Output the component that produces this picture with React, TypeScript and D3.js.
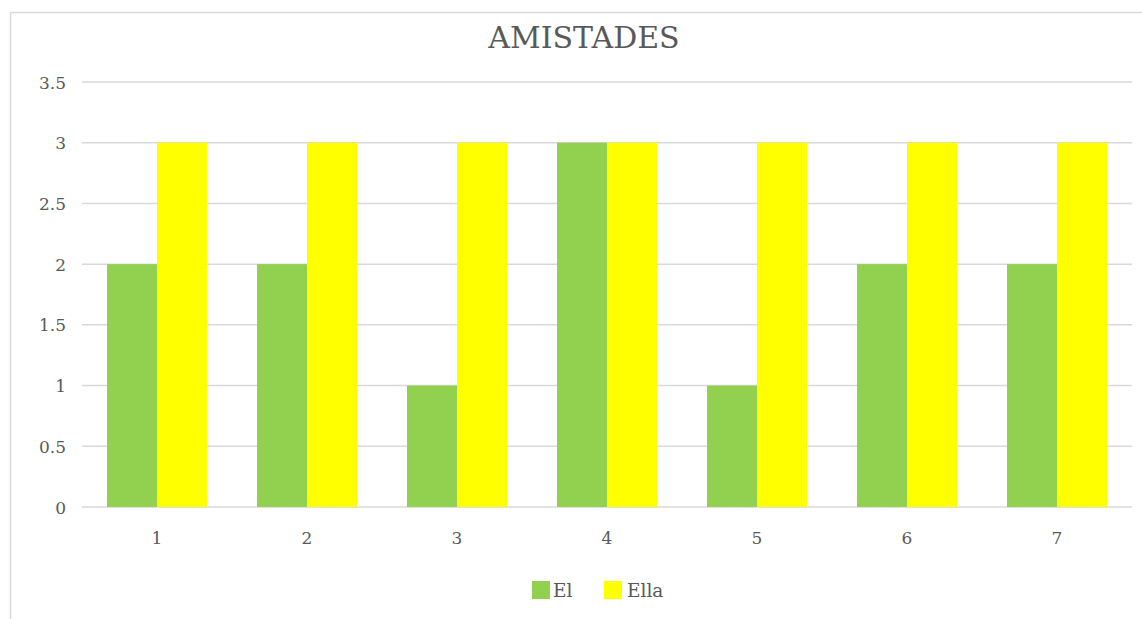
import React from "react";
import * as d3 from "d3";

const categories = ["1", "2", "3", "4", "5", "6", "7"];
const seriesNames = ["El", "Ella"];
const elValues = [2, 2, 1, 3, 1, 2, 2];
const ellaValues = [3, 3, 3, 3, 3, 3, 3];
const yTicks = [0, 0.5, 1, 1.5, 2, 2.5, 3, 3.5];
const colors = ["#92D050", "#FFFF00"];
const title = "AMISTADES";

const W = 1142;
const H = 619;
const FONT = "'DejaVu Serif', serif";
const TEXT = "#595959";
const GRID = "#d9d9d9";

export default function App() {
  const x = d3.scaleBand<string>().domain(categories).range([82, 1132]).padding(0);
  const inner = d3
    .scaleBand<string>()
    .domain(seriesNames)
    .range([x.bandwidth() / 6, (x.bandwidth() * 5) / 6])
    .padding(0);
  const y = d3.scaleLinear().domain([0, 3.5]).range([507, 82]);
  const series = [elValues, ellaValues];

  const legendItems = [
    { name: seriesNames[0], sx: 532, tx: 553 },
    { name: seriesNames[1], sx: 604, tx: 627 },
  ];

  return (
    <div style={{ position: "absolute", left: 0, top: 0 }}>
      <svg width={W} height={H} style={{ display: "block", background: "#fff" }}>
        <line x1={10.5} x2={10.5} y1={12.5} y2={H} stroke={GRID} strokeWidth={1.5} />
        <line x1={10.5} x2={W} y1={12.5} y2={12.5} stroke={GRID} strokeWidth={1.5} />
        <text x={584} y={48} textAnchor="middle" fontFamily={FONT} fontSize={30} fill={TEXT}>
          {title}
        </text>
        {yTicks.map((t) => (
          <g key={t}>
            <line x1={82} x2={1132} y1={y(t)} y2={y(t)} stroke={GRID} strokeWidth={1.5} />
            <text
              x={66}
              y={y(t) + 6.5}
              textAnchor="end"
              fontFamily={FONT}
              fontSize={17}
              fill={TEXT}
            >
              {String(t)}
            </text>
          </g>
        ))}
        {categories.map((c, i) => (
          <g key={c}>
            {series.map((vals, s) => (
              <rect
                key={s}
                x={(x(c) as number) + (inner(seriesNames[s]) as number)}
                y={y(vals[i])}
                width={inner.bandwidth()}
                height={y(0) - y(vals[i])}
                fill={colors[s]}
              />
            ))}
            <text
              x={(x(c) as number) + x.bandwidth() / 2}
              y={544}
              textAnchor="middle"
              fontFamily={FONT}
              fontSize={17}
              fill={TEXT}
            >
              {c}
            </text>
          </g>
        ))}
        {legendItems.map((it, i) => (
          <g key={it.name}>
            <rect x={it.sx} y={581} width={18} height={18} fill={colors[i]} />
            <text x={it.tx} y={597} fontFamily={FONT} fontSize={18.5} fill={TEXT}>
              {it.name}
            </text>
          </g>
        ))}
      </svg>
    </div>
  );
}
